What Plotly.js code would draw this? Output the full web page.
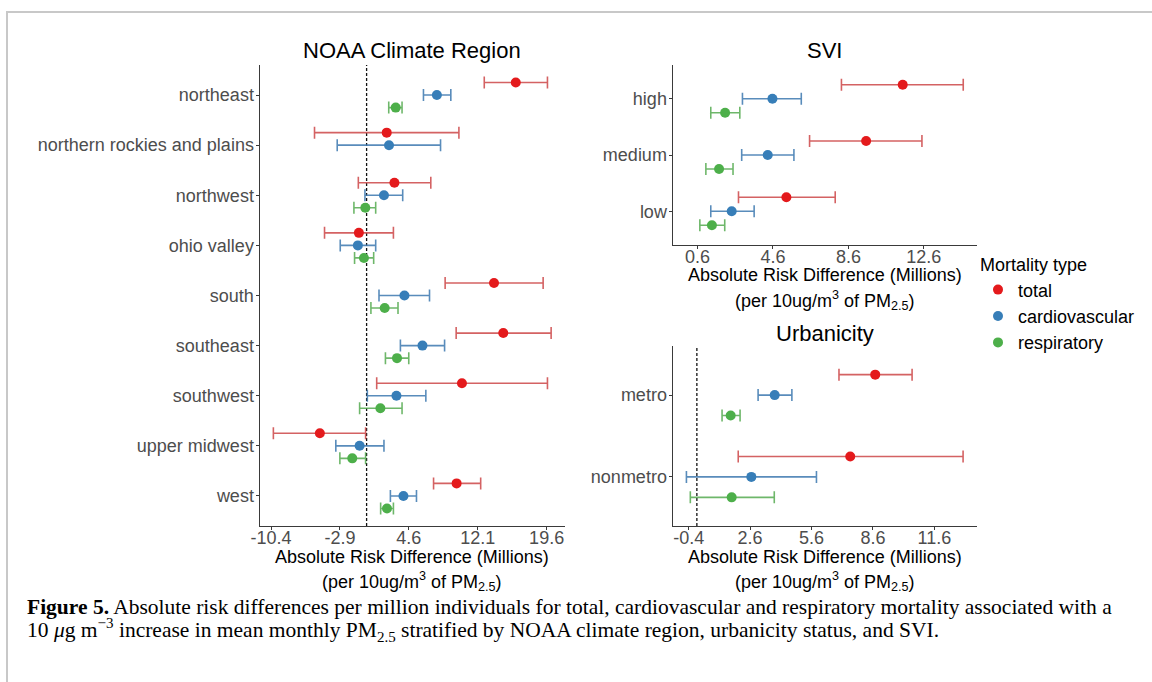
<!DOCTYPE html>
<html>
<head>
<meta charset="utf-8">
<script src="https://cdn.plot.ly/plotly-3.0.1.min.js"></script>
<style>html,body{margin:0;padding:0;background:#fff;}#chart{width:1152px;height:682px;}</style>
</head>
<body>
<div id="chart"></div>
<script>
// ---------- data ----------
const regionCats = ["northeast", "northern rockies and plains", "northwest", "ohio valley", "south", "southeast", "southwest", "upper midwest", "west"];
const regionTotal   = [16.24, 2.19, 3.03, -0.84, 13.87, 14.88, 10.38, -5.09, 9.80];
const regionTotalLo = [12.81, -5.67, -0.90, -4.58, 8.55, 9.75, 1.10, -10.15, 7.29];
const regionTotalHi = [19.69, 10.05, 6.99, 2.92, 19.22, 20.09, 19.69, -0.11, 12.42];
const regionCardio   = [7.65, 2.44, 1.89, -0.95, 4.12, 6.08, 3.25, -0.76, 4.01];
const regionCardioLo = [6.19, -3.20, -0.18, -2.87, 1.35, 3.68, 0.08, -3.35, 2.59];
const regionCardioHi = [9.17, 8.05, 3.93, 0.99, 6.85, 8.49, 6.45, 1.89, 5.43];
const regionResp   = [3.17, null, -0.14, -0.29, 1.97, 3.31, 1.50, -1.56, 2.22];
const regionRespLo = [2.41, null, -1.38, -1.31, 0.47, 2.05, -0.76, -2.91, 1.53];
const regionRespHi = [3.86, null, 0.99, 0.77, 3.42, 4.59, 3.86, -0.11, 2.92];
const regionTicks = [-10.4, -2.9, 4.6, 12.1, 19.6];

const sviCats = ["high", "medium", "low"];
const sviTotal   = [11.48, 9.54, 5.31];
const sviTotalLo = [8.23, 6.54, 2.77];
const sviTotalHi = [14.69, 12.50, 7.90];
const sviCardio   = [4.57, 4.32, 2.41];
const sviCardioLo = [2.98, 2.94, 1.30];
const sviCardioHi = [6.10, 5.71, 3.60];
const sviResp   = [2.06, 1.74, 1.36];
const sviRespLo = [1.30, 1.04, 0.72];
const sviRespHi = [2.84, 2.48, 2.04];
const sviTicks = [0.6, 4.6, 8.6, 12.6];

const urbanCats = ["metro", "nonmetro"];
const urbanTotal   = [8.71, 7.49];
const urbanTotalLo = [6.94, 2.02];
const urbanTotalHi = [10.51, 13.00];
const urbanCardio   = [3.80, 2.66];
const urbanCardioLo = [2.99, -0.51];
const urbanCardioHi = [4.64, 5.84];
const urbanResp   = [1.65, 1.70];
const urbanRespLo = [1.23, -0.32];
const urbanRespHi = [2.11, 3.78];
const urbanTicks = [-0.4, 2.6, 5.6, 8.6, 11.6];

const typeNames = ["total", "cardiovascular", "respiratory"];

// ---------- styling ----------
const W = 1152, H = 682;
const colors = {total: "#E41A1C", cardiovascular: "#377EB8", respiratory: "#4DAF4A"};
const barColors = {total: "rgba(205,70,72,0.85)", cardiovascular: "rgba(60,120,175,0.85)", respiratory: "rgba(85,170,80,0.85)"};
const dodge = {total: -0.25, cardiovascular: 0, respiratory: 0.25};
const FONT = "Liberation Sans, Arial, Helvetica, sans-serif";
const px = v => v / W;
const py = v => 1 - v / H;

function makeTrace(cats, est, lo, hi, type, xa, ya, showlegend) {
  return {
    type: "scatter", mode: "markers", name: type, legendgroup: type, showlegend: showlegend,
    x: est,
    y: cats.map((c, i) => i + 1 + dodge[type]),
    xaxis: xa, yaxis: ya,
    marker: {color: colors[type], size: 10},
    error_x: {
      type: "data", symmetric: false,
      array: hi.map((h, i) => h == null ? null : h - est[i]),
      arrayminus: lo.map((l, i) => l == null ? null : est[i] - l),
      color: barColors[type], thickness: 1.6, width: 6
    },
    hovertemplate: "%{x}<extra>" + type + "</extra>"
  };
}

const traces = [];
const panels = [
  {cats: regionCats, data: [[regionTotal, regionTotalLo, regionTotalHi], [regionCardio, regionCardioLo, regionCardioHi], [regionResp, regionRespLo, regionRespHi]], xa: "x", ya: "y", legend: true},
  {cats: sviCats, data: [[sviTotal, sviTotalLo, sviTotalHi], [sviCardio, sviCardioLo, sviCardioHi], [sviResp, sviRespLo, sviRespHi]], xa: "x2", ya: "y2", legend: false},
  {cats: urbanCats, data: [[urbanTotal, urbanTotalLo, urbanTotalHi], [urbanCardio, urbanCardioLo, urbanCardioHi], [urbanResp, urbanRespLo, urbanRespHi]], xa: "x3", ya: "y3", legend: false}
];
panels.forEach(p => {
  typeNames.forEach((t, k) => {
    const d = p.data[k];
    traces.push(makeTrace(p.cats, d[0], d[1], d[2], t, p.xa, p.ya, p.legend));
  });
});

const axLine = "#3a3a3a";
const tickFont = {family: FONT, size: 18, color: "#4D4D4D"};
function xAxis(domain, range, ticks, anchor) {
  return {
    domain: domain, range: range, anchor: anchor,
    tickvals: ticks, ticktext: ticks.map(v => String(v)),
    showline: true, linecolor: axLine, linewidth: 1,
    ticks: "outside", ticklen: 3, tickcolor: axLine, tickwidth: 1,
    ticklabelstandoff: -8,
    showgrid: false, zeroline: false, tickfont: tickFont, fixedrange: true
  };
}
function yAxis(domain, cats, anchor) {
  return {
    domain: domain, range: [cats.length + 0.6, 0.4], anchor: anchor,
    tickvals: cats.map((c, i) => i + 1), ticktext: cats,
    showline: true, linecolor: axLine, linewidth: 1,
    ticks: "outside", ticklen: 3, tickcolor: axLine, tickwidth: 1,
    ticklabelstandoff: -2,
    showgrid: false, zeroline: false, tickfont: tickFont, fixedrange: true
  };
}

const L = {l: 259.5, r: 565, t: 65, b: 526};
const S = {l: 672.5, r: 977, t: 65, b: 245};
const U = {l: 672.5, r: 977, t: 346, b: 526};

const layout = {
  width: W, height: H,
  margin: {l: 0, r: 0, t: 0, b: 0, pad: 0},
  paper_bgcolor: "#ffffff", plot_bgcolor: "#ffffff",
  font: {family: FONT, size: 18, color: "#000"},
  showlegend: true,
  legend: {
    x: px(978), y: py(248), xanchor: "left", yanchor: "top",
    tracegroupgap: 0,
    title: {text: "Mortality type", font: {family: FONT, size: 18, color: "#000"}},
    font: {family: FONT, size: 18, color: "#000"},
    bgcolor: "rgba(0,0,0,0)", borderwidth: 0, itemclick: false, itemdoubleclick: false
  },
  xaxis: xAxis([px(L.l), px(L.r)], [-11.66, 21.6], regionTicks, "y"),
  yaxis: yAxis([py(L.b), py(L.t)], regionCats, "x"),
  xaxis2: xAxis([px(S.l), px(S.r)], [-0.73, 15.42], sviTicks, "y2"),
  yaxis2: yAxis([py(S.b), py(S.t)], sviCats, "x2"),
  xaxis3: xAxis([px(U.l), px(U.r)], [-1.19, 13.68], urbanTicks, "y3"),
  yaxis3: yAxis([py(U.b), py(U.t)], urbanCats, "x3"),
  shapes: [
    {type: "line", layer: "below", xref: "x", yref: "y domain", x0: 0, x1: 0, y0: 0, y1: 1,
     line: {color: "#111", width: 1.3, dash: "3px,2px"}},
    {type: "line", layer: "below", xref: "x3", yref: "y3 domain", x0: 0, x1: 0, y0: 0, y1: 1,
     line: {color: "#111", width: 1.3, dash: "3px,2px"}},
    {type: "rect", layer: "below", xref: "paper", yref: "paper", x0: px(7), x1: px(1170), y0: py(700), y1: py(12),
     line: {color: "#c8c8c8", width: 2}, fillcolor: "rgba(0,0,0,0)"}
  ],
  annotations: []
};

function ann(text, x, y, size, opts) {
  return Object.assign({
    text: text, xref: "paper", yref: "paper", x: px(x), y: py(y),
    xanchor: "center", yanchor: "middle", showarrow: false,
    font: {family: FONT, size: size, color: "#000"}
  }, opts || {});
}
const A = layout.annotations;
A.push(ann("NOAA Climate Region", (L.l + L.r) / 2, 50, 22));
A.push(ann("SVI", (S.l + S.r) / 2, 50, 22));
A.push(ann("Urbanicity", (U.l + U.r) / 2, 333, 22));
const xt1 = "Absolute Risk Difference (Millions)";
const xt2 = "(per 10ug/m<sup>3</sup> of PM<sub>2.5</sub>)";
A.push(ann(xt1, (L.l + L.r) / 2, 557, 18));
A.push(ann(xt2, (L.l + L.r) / 2, 581, 18));
A.push(ann(xt1, (S.l + S.r) / 2, 275, 18));
A.push(ann(xt2, (S.l + S.r) / 2, 300, 18));
A.push(ann(xt1, (U.l + U.r) / 2, 557, 18));
A.push(ann(xt2, (U.l + U.r) / 2, 581, 18));
const SERIF = "Liberation Serif, Times New Roman, serif";
A.push(ann("<b>Figure 5.</b> Absolute risk differences per million individuals for total, cardiovascular and respiratory mortality associated with a",
  25, 607, 21.5, {xanchor: "left", font: {family: SERIF, size: 21.5, color: "#000"}}));
A.push(ann("10 <i>μ</i>g m<sup>−3</sup> increase in mean monthly PM<sub>2.5</sub> stratified by NOAA climate region, urbanicity status, and SVI.",
  25, 630, 21.5, {xanchor: "left", font: {family: SERIF, size: 21.5, color: "#000"}}));

Plotly.newPlot("chart", traces, layout, {displayModeBar: false, staticPlot: false, responsive: false});
</script>
</body>
</html>
